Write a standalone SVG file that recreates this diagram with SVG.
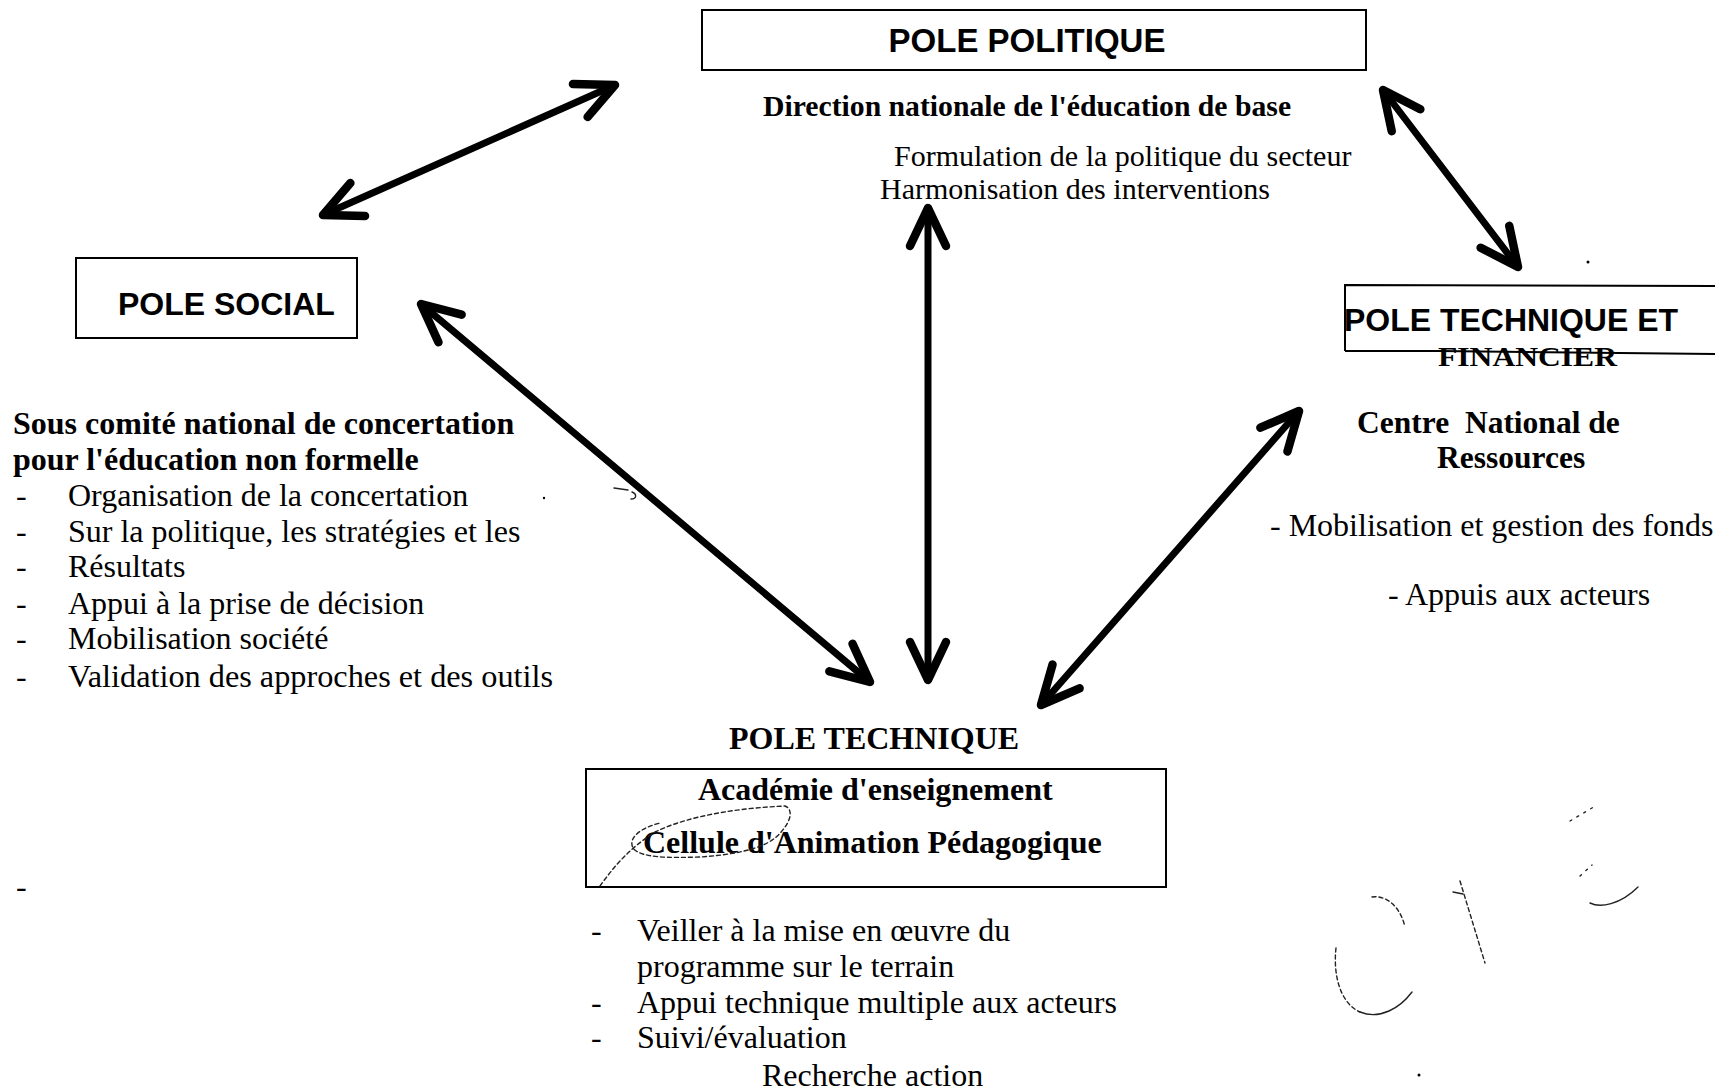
<svg xmlns="http://www.w3.org/2000/svg" width="1715" height="1092" viewBox="0 0 1715 1092">
<style>
.bg{fill:#fff}
.box{fill:none;stroke:#000;stroke-width:2}
.ts{font-family:"Liberation Sans",Arial,sans-serif;font-weight:bold;fill:#000}
.sb{font-family:"Liberation Serif","Times New Roman",serif;font-weight:bold;fill:#000}
.sr{font-family:"Liberation Serif","Times New Roman",serif;fill:#000}
.arr{fill:none;stroke:#000;stroke-width:7;stroke-linecap:round;marker-start:url(#ah);marker-end:url(#ah)}
.scr{fill:none;stroke:#222;stroke-width:1.4;stroke-linecap:round}
.dot{stroke-dasharray:4 3}
</style>
<defs>
<marker id="ah" markerUnits="userSpaceOnUse" viewBox="-45 -25 52 50" refX="0" refY="0" markerWidth="52" markerHeight="50" orient="auto-start-reverse">
<path d="M-38,-18 L0,0 L-38,18" fill="none" stroke="#000" stroke-width="8.5" stroke-linecap="round" stroke-linejoin="round"/>
</marker>
</defs>
<rect class="bg" x="0" y="0" width="1715" height="1092"/>

<g id="node-pole-politique">
<rect class="box" x="702" y="10" width="664" height="60"/>
<text class="ts" x="1027" y="52" font-size="33" text-anchor="middle">POLE POLITIQUE</text>
<text class="sb" x="763" y="116" font-size="29.7">Direction nationale de l'éducation de base</text>
<text class="sr" x="894" y="166" font-size="30">Formulation de la politique du secteur</text>
<text class="sr" x="880" y="199" font-size="30">Harmonisation des interventions</text>
</g>

<g id="node-pole-social">
<rect class="box" x="76" y="258" width="281" height="80"/>
<text class="ts" x="118" y="315" font-size="32">POLE SOCIAL</text>
<text class="sb" x="13" y="434" font-size="32">Sous comité national de concertation</text>
<text class="sb" x="13" y="470" font-size="32">pour l'éducation non formelle</text>
<g class="sr" font-size="32">
<text x="16" y="506">-</text><text x="68" y="506">Organisation de la concertation</text>
<text x="16" y="542">-</text><text x="68" y="542">Sur la politique, les stratégies et les</text>
<text x="16" y="577">-</text><text x="68" y="577">Résultats</text>
<text x="16" y="614">-</text><text x="68" y="614">Appui à la prise de décision</text>
<text x="16" y="649">-</text><text x="68" y="649">Mobilisation société</text>
<text x="16" y="687">-</text><text x="68" y="687" textLength="485" lengthAdjust="spacingAndGlyphs">Validation des approches et des outils</text>
<text x="16" y="897">-</text>
</g>
</g>

<g id="node-pole-technique-financier">
<text class="ts" x="1344" y="331" font-size="31.5" textLength="334" lengthAdjust="spacingAndGlyphs">POLE TECHNIQUE ET</text>
<text class="sb" x="1438" y="366" font-size="27" textLength="179" lengthAdjust="spacingAndGlyphs">FINANCIER</text>
<path class="box" d="M1345,351 L1345,285 L1720,286 M1345,351 L1438,351 M1438,351 L1720,354"/>
<text class="sb" x="1357" y="433" font-size="31.5">Centre&#160; National de</text>
<text class="sb" x="1437" y="468" font-size="31.5">Ressources</text>
<text class="sr" x="1270" y="536" font-size="32">- Mobilisation et gestion des fonds</text>
<text class="sr" x="1388" y="605" font-size="32">- Appuis aux acteurs</text>
</g>

<g id="node-pole-technique">
<text class="sb" x="729" y="749" font-size="32">POLE TECHNIQUE</text>
<rect class="box" x="586" y="769" width="580" height="118"/>
<text class="sb" x="698" y="800" font-size="32">Académie d'enseignement</text>
<text class="sb" x="643" y="853" font-size="32">Cellule d'Animation Pédagogique</text>
<g class="sr" font-size="32">
<text x="591" y="941">-</text><text x="637" y="941">Veiller à la mise en œuvre du</text>
<text x="637" y="977">programme sur le terrain</text>
<text x="591" y="1013">-</text><text x="637" y="1013">Appui technique multiple aux acteurs</text>
<text x="591" y="1048">-</text><text x="637" y="1048">Suivi/évaluation</text>
<text x="762" y="1086">Recherche action</text>
</g>
</g>

<g id="connectors">
<line class="arr" x1="615" y1="85" x2="323" y2="215"/>
<line class="arr" x1="928" y1="208" x2="928" y2="680"/>
<line class="arr" x1="1383" y1="90" x2="1518" y2="267"/>
<line class="arr" x1="421" y1="304" x2="870" y2="682"/>
<line class="arr" x1="1299" y1="411" x2="1041" y2="705"/>
</g>

<g id="annotations">
<path class="scr dot" stroke-width="1.1" d="M600,886 C615,865 630,848 655,832 C690,815 740,808 785,806 C795,810 790,825 775,838 C760,850 730,855 700,857 C670,858 640,858 633,848 C628,838 640,828 660,823"/>
<path class="scr" d="M614,488 L628,490 M632,492 C637,494 637,499 631,499"/>
<path class="scr dot" d="M1336,948 C1333,975 1340,1003 1360,1012"/>
<path class="scr" d="M1360,1012 C1380,1020 1400,1008 1412,992"/>
<path class="scr dot" stroke-width="1" d="M1372,897 C1385,895 1400,905 1405,927"/>
<path class="scr dot" stroke-width="2" d="M1460,881 L1485,963"/>
<path class="scr" d="M1453,892 L1463,894"/>
<path class="scr" stroke-width="2" d="M1590,903 C1600,908 1620,905 1638,887"/>
<path class="scr" stroke-width="1" stroke-dasharray="2 6" d="M1570,821 L1597,805 M1580,876 L1592,865"/>
<circle cx="1588" cy="262" r="1.5" fill="#000"/>
<circle cx="544" cy="498" r="1.2" fill="#000"/>
<circle cx="1419" cy="1075" r="1.5" fill="#000"/>
</g>
</svg>
